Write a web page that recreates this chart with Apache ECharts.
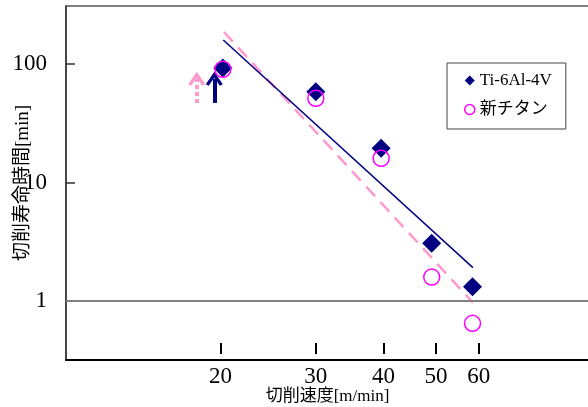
<!DOCTYPE html>
<html><head><meta charset="utf-8">
<script src="https://cdn.jsdelivr.net/npm/echarts@6/dist/echarts.min.js"></script>
<style>html,body{margin:0;padding:0;background:#fff}#c{width:588px;height:407px}</style>
</head><body><div id="c"></div>
<script>
// ---- data ----
const speedTicks = [20, 30, 40, 50, 60];
const lifeTicks = [1, 10, 100];
const lifeTickMarks = [10, 100];
const seriesNames = ['Ti-6Al-4V', '新チタン'];
const tiSpeed = [20.2, 30, 39.6, 49.1, 58.4];
const tiLife = [92.5, 58.4, 19.4, 3.07, 1.32];
const newSpeed = [20.2, 30, 39.6, 49.1, 58.4];
const newLife = [90.2, 51.3, 16.0, 1.59, 0.648];
const tiFitSpeed = [20.24, 58.5];
const tiFitLife = [159.4, 1.91];
const newFitSpeed = [20.3, 58.5];
const newFitLife = [186, 0.97];
const arrowSpeed = [19.48, 18.08];   // [Ti, new]
const arrowFrom = [46.9, 46.9];
const arrowTo = [75, 75];
const refLife = 1;

const zip = (a, b) => a.map((v, i) => [v, b[i]]);
const FONT = "'Liberation Serif', 'Noto Sans CJK JP', serif";
const NAVY = '#000080', PINK = '#FF99CC', MAG = '#FF00FF';
const chevron = 'path://M0,11 L7,0 L14,11 L11.6,12.4 L7,5.2 L2.4,12.4 Z';

const xMin = 10.37, xMax = 100, yMin = 0.3177, yMax = 308.4;

const chart = echarts.init(document.getElementById('c'), null, {renderer: 'canvas'});
chart.setOption({
  animation: false,
  backgroundColor: '#fff',
  grid: {left: 66, top: 6, right: -11, bottom: 47, show: true, borderColor: '#555', borderWidth: 1.5, outerBoundsMode: 'none'},
  legend: {
    orient: 'vertical', left: 447, top: 63, padding: [9, 14, 11, 17],
    itemWidth: 10, itemHeight: 10, itemGap: 12, itemTextGap: 9,
    borderColor: '#444', borderWidth: 1, backgroundColor: '#fff',
    textStyle: {fontSize: 17, fontFamily: FONT, color: '#000'},
    data: [
      {name: seriesNames[0], icon: 'diamond', itemStyle: {color: NAVY, opacity: 1}},
      {name: seriesNames[1], icon: 'circle', itemStyle: {color: 'transparent', borderColor: MAG, borderWidth: 1.5, opacity: 1}}
    ]
  },
  xAxis: [
    {
      type: 'log', logBase: 10, min: xMin, max: xMax, position: 'bottom',
      axisLine: {show: true, lineStyle: {color: '#000', width: 2}},
      axisTick: {show: false}, splitLine: {show: false}, minorTick: {show: false},
      axisLabel: {customValues: speedTicks, fontFamily: FONT, fontSize: 23, color: '#000', margin: 5,
        formatter: v => String(Math.round(v))},
      name: '切削速度[m/min]', nameLocation: 'middle', nameGap: 28, nameMoveOverlap: false,
      nameTextStyle: {fontSize: 17, fontFamily: FONT, color: '#000', padding: [0, 10, 0, 0]}
    },
    {
      type: 'log', logBase: 10, min: xMin, max: xMax, position: 'bottom', offset: -6,
      axisLine: {show: false}, splitLine: {show: false},
      axisTick: {show: true, inside: true, length: 11, customValues: speedTicks, lineStyle: {color: '#000', width: 2}},
      axisLabel: {show: false}
    }
  ],
  yAxis: {
    type: 'log', logBase: 10, min: yMin, max: yMax,
    axisLine: {show: true, lineStyle: {color: '#333', width: 1.5}},
    axisTick: {show: true, inside: true, length: 9, customValues: lifeTickMarks, lineStyle: {color: '#333', width: 1.5}},
    splitLine: {show: false},
    axisLabel: {customValues: lifeTicks, fontFamily: FONT, fontSize: 23, color: '#000', margin: 19,
      formatter: v => String(Math.round(v))},
    name: '切削寿命時間[min]', nameLocation: 'middle', nameGap: 33, nameRotate: 90, nameMoveOverlap: false,
    nameTextStyle: {fontSize: 19, fontFamily: FONT, color: '#000'}
  },
  series: [
    {
      name: 'newFit', type: 'line', xAxisIndex: 0, data: zip(newFitSpeed, newFitLife),
      symbol: 'none', lineStyle: {color: PINK, width: 2.5, type: [13, 8]}, z: 2, silent: true,
      markLine: {
        silent: true, symbol: ['none', chevron], symbolSize: [17, 14],
        lineStyle: {color: PINK, width: 4, type: [4, 3], opacity: 1}, label: {show: false},
        data: [[{coord: [arrowSpeed[1], arrowFrom[1]]}, {coord: [arrowSpeed[1], arrowTo[1]]}]]
      }
    },
    {
      name: 'tiFit', type: 'line', xAxisIndex: 0, data: zip(tiFitSpeed, tiFitLife),
      symbol: 'none', lineStyle: {color: NAVY, width: 1.5}, z: 3, silent: true,
      markLine: {
        silent: true, symbol: ['none', chevron], symbolSize: [17, 14],
        lineStyle: {color: NAVY, width: 4, type: 'solid', opacity: 1}, label: {show: false},
        data: [[{coord: [arrowSpeed[0], arrowFrom[0]]}, {coord: [arrowSpeed[0], arrowTo[0]]}]]
      }
    },
    {
      name: seriesNames[0], type: 'scatter', xAxisIndex: 0, data: zip(tiSpeed, tiLife),
      symbol: 'diamond', symbolSize: 19, itemStyle: {color: NAVY, opacity: 1}, z: 4,
      markLine: {
        silent: true, symbol: 'none', label: {show: false},
        lineStyle: {color: '#808080', width: 2, type: 'solid', opacity: 1},
        data: [{yAxis: refLife}]
      }
    },
    {
      name: seriesNames[1], type: 'scatter', xAxisIndex: 0, data: zip(newSpeed, newLife),
      symbol: 'circle', symbolSize: 16,
      itemStyle: {color: 'transparent', borderColor: MAG, borderWidth: 1.5, opacity: 1}, z: 5
    }
  ]
});
</script>
</body></html>
